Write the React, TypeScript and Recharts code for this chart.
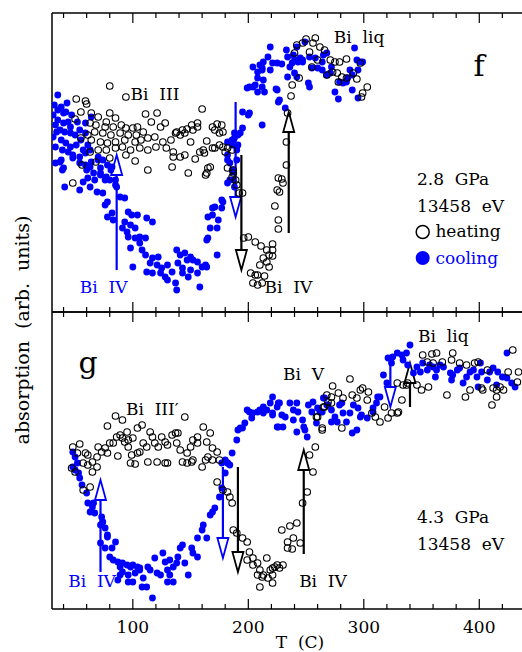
import React from "react";
import { ScatterChart, Scatter, XAxis, YAxis, ReferenceLine, ReferenceDot } from "recharts";

// T (C) vs absorption (arb. units); top panel f at 2.8 GPa, bottom panel g at 4.3 GPa
const tempTicks = [40, 60, 80, 100, 120, 140, 160, 180, 200, 220, 240, 260, 280, 300, 320, 340, 360, 380, 400, 420];
const tempDomain: [number, number] = [30, 437];

// panel f, heating (open circles)
const heatF: [number, number][] = [
  [80, 22.6], [94, 21.5], [51, 21.3], [59, 21.1], [60, 20.8], [55, 20.0], [64, 19.9], [50, 19.3], [70, 19.5], [80, 19.9],
  [85, 19.4], [77, 19.0], [63, 18.9], [68, 18.7], [76, 18.5], [83, 18.5], [90, 18.7], [94, 18.4], [100, 18.4], [104, 18.5],
  [111, 19.8], [121, 19.9], [116, 19.0], [128, 18.9], [124, 18.5], [109, 18.0], [103, 17.7], [96, 17.7], [89, 17.9], [81, 17.7],
  [74, 17.9], [67, 18.0], [61, 17.7], [55, 17.4], [64, 17.2], [72, 17.0], [78, 16.9], [85, 17.0], [93, 17.2], [102, 17.0],
  [107, 17.2], [113, 17.4], [119, 17.5], [126, 17.0], [133, 17.2], [120, 16.5], [129, 16.4], [135, 16.0], [113, 16.2], [106, 16.4],
  [98, 16.2], [91, 16.5], [85, 16.4], [77, 16.2], [70, 16.2], [63, 16.0], [94, 15.7], [102, 15.1], [80, 15.4], [113, 14.2],
  [68, 15.0], [137, 17.9], [48, 12.9], [56, 14.7], [134, 14.5], [148, 13.9], [164, 13.9], [165, 14.4], [182, 14.4], [187, 13.9],
  [160, 20.3], [178, 18.0], [173, 18.8], [177, 18.7], [171, 18.2], [175, 17.9], [156, 18.9], [156, 18.5], [151, 18.7], [152, 18.2],
  [147, 18.3], [145, 17.9], [141, 17.7], [138, 18.0], [150, 17.0], [164, 17.1], [161, 16.2], [158, 16.0], [162, 15.9], [169, 16.4],
  [171, 16.4], [175, 16.7], [178, 16.5], [182, 16.4], [186, 16.2], [180, 16.0], [145, 15.7], [141, 15.5], [135, 15.5], [154, 15.3],
  [167, 14.5], [163, 13.7], [187, 14.2], [186, 13.5], [189, 13.2], [190, 12.7], [192, 11.9], [195, 11.9], [143, 18.2], [169, 18.5],
  [196, 7.4], [200, 7.5], [206, 7.0], [211, 6.6], [221, 6.8], [221, 6.2], [218, 5.7], [213, 5.4], [216, 5.0], [218, 4.5],
  [210, 4.7], [202, 3.9], [206, 3.7], [208, 3.7], [214, 3.6], [204, 2.9], [208, 2.7], [212, 2.9], [216, 6.2], [221, 5.6],
  [226, 13.4], [225, 12.2], [223, 10.6], [226, 9.2], [226, 8.3], [227, 12.0], [229, 13.3], [230, 12.9], [233, 14.7], [233, 17.0],
  [234, 19.9], [237, 21.6], [238, 22.7], [244, 23.4], [240, 25.9], [242, 26.7], [247, 26.9], [250, 27.3], [258, 27.4], [256, 26.9],
  [253, 26.0], [262, 26.5], [266, 26.2], [260, 25.2], [255, 24.5], [271, 25.2], [275, 25.0], [279, 25.0], [285, 25.3], [273, 24.0],
  [277, 23.9], [281, 23.5], [285, 23.4], [291, 23.9], [294, 23.3], [278, 23.0], [297, 24.9], [303, 22.5], [299, 21.9], [298, 21.5],
  [268, 23.7],
];

// panel f, cooling (filled dots)
const coolF: [number, number][] = [
  [35, 21.7], [38, 20.5], [35, 20.2], [40, 19.9], [42, 20.0], [35, 19.2], [40, 18.9], [44, 19.0], [46, 18.5], [37, 18.2],
  [41, 18.0], [46, 17.9], [50, 17.7], [54, 18.2], [59, 17.9], [55, 17.2], [38, 17.2], [42, 16.9], [46, 16.5], [51, 16.7],
  [61, 16.7], [44, 16.0], [48, 15.7], [54, 15.5], [59, 15.9], [64, 15.0], [59, 14.7], [38, 15.2], [40, 14.4], [70, 15.2],
  [72, 14.4], [72, 13.9], [77, 13.5], [81, 14.2], [80, 13.2], [85, 12.7], [67, 13.2], [61, 13.4], [64, 19.5], [59, 18.9],
  [33, 14.9], [33, 16.5], [31, 17.5], [41, 12.5], [32, 20.7], [33, 18.7], [31, 19.7], [34, 18.0], [39, 16.2], [43, 20.9],
  [47, 19.7], [52, 19.0], [57, 16.2], [63, 16.2], [37, 15.0], [39, 14.2], [48, 15.4], [54, 14.9], [60, 14.2], [63, 14.5],
  [66, 13.9], [72, 13.7], [70, 15.5], [74, 15.2], [78, 14.7], [82, 14.5], [76, 13.2], [54, 12.2], [57, 13.0], [63, 12.5],
  [69, 12.0], [74, 11.9], [85, 13.2], [86, 12.5], [89, 11.5], [93, 11.4], [78, 11.0], [76, 10.7], [82, 9.9], [78, 9.5],
  [83, 9.2], [96, 10.0], [99, 9.7], [104, 9.7], [93, 9.0], [98, 8.7], [91, 8.4], [95, 8.0], [102, 8.4], [112, 9.4],
  [117, 9.0], [96, 7.5], [102, 7.4], [106, 7.5], [111, 7.4], [98, 6.4], [106, 6.9], [108, 6.2], [111, 5.7], [117, 5.4],
  [122, 5.5], [115, 4.9], [121, 4.7], [125, 4.4], [130, 4.7], [112, 4.0], [117, 3.9], [124, 3.9], [128, 3.5], [130, 3.2],
  [137, 2.9], [138, 2.2], [100, 4.5], [134, 4.0], [138, 6.2], [141, 5.7], [145, 5.9], [150, 5.5], [147, 5.2], [139, 4.9],
  [143, 4.4], [152, 5.2], [156, 5.0], [160, 4.5], [163, 4.7], [150, 4.2], [143, 3.9], [148, 3.5], [158, 2.5], [156, 3.9],
  [164, 4.5], [164, 7.2], [165, 7.4], [167, 8.4], [173, 8.4], [165, 9.5], [169, 9.7], [174, 9.2], [169, 10.4], [171, 10.5],
  [177, 11.2], [178, 11.0], [177, 10.4], [173, 5.7], [186, 14.2], [184, 13.2], [187, 13.2], [188, 12.5], [182, 15.2], [186, 16.7],
  [190, 16.5], [182, 17.0], [186, 17.2], [188, 17.4], [191, 17.7], [193, 17.9], [188, 17.9], [190, 16.2], [182, 15.7], [184, 14.9],
  [190, 15.2], [187, 14.0], [182, 12.9], [195, 20.0], [201, 19.9], [200, 19.7], [195, 18.4], [212, 18.7], [199, 22.4], [201, 22.5],
  [206, 22.7], [208, 22.0], [212, 22.5], [214, 22.0], [225, 22.2], [226, 21.0], [232, 20.4], [191, 16.7], [219, 26.5], [217, 25.5],
  [221, 24.9], [225, 24.9], [210, 24.7], [204, 24.5], [208, 24.0], [212, 24.4], [208, 23.4], [204, 22.5], [213, 25.0], [212, 24.2],
  [229, 24.8], [219, 24.2], [233, 26.2], [234, 25.5], [238, 24.9], [236, 24.5], [239, 25.7], [242, 26.5], [249, 27.0], [240, 25.2],
  [243, 25.0], [245, 25.4], [247, 25.0], [247, 25.2], [253, 25.5], [258, 25.4], [265, 25.7], [268, 25.9], [264, 25.0], [255, 24.4],
  [260, 24.4], [264, 24.2], [268, 23.7], [271, 23.9], [272, 24.5], [279, 23.0], [282, 22.9], [285, 23.0], [286, 23.4], [288, 24.2],
  [290, 23.7], [292, 26.4], [294, 25.2], [297, 25.0], [299, 25.0], [295, 24.2], [290, 22.2], [295, 21.4], [278, 21.3], [275, 22.0],
  [253, 22.5], [252, 22.9], [234, 23.5], [240, 23.9], [242, 23.5], [224, 22.3], [227, 21.2], [213, 23.2],
];

// panel g, heating (open circles)
const heatG: [number, number][] = [
  [48, 16.2], [54, 16.5], [52, 15.6], [59, 15.6], [61, 15.4], [57, 14.6], [65, 14.7], [69, 15.2], [70, 16.2], [73, 15.7],
  [76, 16.1], [78, 15.6], [80, 16.6], [83, 16.6], [86, 17.2], [89, 17.4], [91, 17.1], [95, 17.7], [93, 16.7], [96, 16.9],
  [96, 16.2], [100, 17.1], [99, 15.4], [104, 15.6], [106, 15.7], [109, 16.6], [112, 16.2], [115, 17.7], [117, 17.2], [119, 16.6],
  [122, 16.2], [125, 17.2], [128, 16.7], [130, 16.4], [134, 17.4], [137, 17.6], [138, 16.6], [141, 15.9], [139, 17.6], [147, 15.6],
  [150, 16.2], [152, 16.9], [156, 16.6], [156, 17.2], [161, 18.2], [167, 17.6], [164, 16.7], [169, 16.1], [173, 15.7], [165, 15.2],
  [163, 14.9], [169, 14.9], [175, 14.9], [152, 14.9], [143, 14.7], [147, 14.6], [130, 14.6], [121, 14.7], [113, 14.7], [98, 14.6],
  [102, 14.5], [87, 15.3], [78, 18.3], [85, 19.3], [91, 18.9], [104, 18.1], [108, 18.4], [145, 19.2], [47, 14.1], [50, 13.7],
  [61, 14.4], [65, 13.7], [69, 14.2], [63, 12.2], [57, 11.9], [128, 14.6], [151, 14.7], [160, 14.2], [173, 12.7], [178, 11.9],
  [182, 11.7], [184, 11.2], [186, 10.6], [187, 7.9], [190, 7.6], [195, 7.1], [199, 6.7], [201, 5.7], [199, 4.9], [204, 5.1],
  [208, 4.6], [204, 4.4], [210, 3.9], [213, 3.4], [208, 3.4], [217, 3.1], [221, 2.6], [210, 2.2], [216, 5.1], [219, 3.9],
  [223, 4.2], [227, 4.1], [221, 4.1], [221, 3.4], [225, 4.4], [230, 4.4], [212, 3.2], [229, 7.9], [236, 8.3], [242, 8.6],
  [239, 7.1], [234, 6.7], [234, 6.1], [238, 6.0], [245, 6.6], [247, 10.6], [251, 11.7], [256, 13.7], [258, 16.2], [253, 15.4],
  [264, 18.1], [260, 19.2], [266, 20.2], [272, 21.2], [273, 22.3], [278, 21.6], [282, 21.1], [288, 23.0], [290, 21.4], [294, 21.1],
  [297, 21.9], [299, 22.1], [303, 20.9], [304, 21.7], [307, 19.6], [310, 19.2], [314, 18.7], [318, 20.2], [321, 19.1], [324, 19.6],
  [329, 19.6], [330, 19.7], [333, 20.9], [329, 22.6], [334, 22.4], [337, 22.4], [346, 22.4], [350, 21.9], [356, 22.2], [351, 25.4],
  [359, 25.5], [363, 25.6], [377, 25.6], [355, 24.7], [360, 24.6], [368, 24.7], [372, 21.4], [376, 24.9], [383, 24.6], [388, 21.2],
  [389, 24.4], [392, 21.9], [396, 24.6], [399, 24.7], [402, 22.1], [403, 21.9], [407, 23.9], [411, 20.4], [412, 22.1], [415, 21.9],
  [415, 21.2], [418, 22.2], [421, 21.9], [425, 23.7], [429, 25.9], [433, 22.7], [434, 23.7], [338, 22.6], [268, 21.4], [269, 20.7],
  [272, 20.6], [265, 20.2], [259, 19.2], [264, 17.9], [281, 18.1],
];

// panel g, cooling (filled dots)
const coolG: [number, number][] = [
  [48, 15.7], [50, 15.2], [52, 14.6], [48, 14.2], [50, 13.9], [53, 13.6], [54, 13.1], [56, 12.4], [60, 11.6], [61, 10.6],
  [65, 10.2], [63, 9.7], [67, 9.6], [66, 10.6], [73, 9.2], [74, 8.7], [72, 8.4], [76, 8.1], [78, 7.4], [78, 7.2],
  [72, 6.6], [76, 6.1], [82, 6.1], [85, 6.7], [80, 5.2], [83, 4.9], [87, 4.7], [91, 4.6], [89, 4.2], [95, 4.4],
  [98, 4.2], [100, 4.4], [104, 4.2], [106, 4.1], [91, 3.7], [96, 3.4], [89, 3.4], [87, 2.9], [96, 2.7], [100, 2.7],
  [106, 3.9], [102, 3.6], [109, 3.1], [108, 2.2], [112, 2.2], [113, 4.2], [115, 3.9], [117, 1.1], [121, 3.6], [119, 5.1],
  [124, 3.4], [126, 5.6], [128, 4.7], [130, 3.9], [132, 3.4], [132, 4.9], [135, 4.2], [138, 4.6], [141, 6.1], [143, 6.4],
  [139, 5.2], [145, 4.6], [148, 3.4], [135, 2.7], [130, 2.7], [151, 6.1], [152, 5.6], [156, 5.2], [156, 7.1], [160, 7.9],
  [161, 8.4], [164, 7.1], [167, 9.4], [169, 9.7], [171, 10.1], [175, 11.2], [177, 12.1], [182, 14.6], [184, 14.4], [180, 13.6],
  [177, 14.6], [180, 14.9], [182, 14.6], [186, 15.6], [190, 16.9], [193, 18.1], [197, 18.6], [199, 19.9], [204, 19.6], [210, 19.9],
  [213, 20.2], [216, 19.9], [219, 20.6], [221, 21.2], [225, 20.2], [226, 18.2], [191, 17.9], [195, 18.1], [201, 19.7], [203, 19.1],
  [208, 19.7], [213, 19.6], [221, 19.4], [227, 20.6], [229, 19.4], [232, 19.2], [236, 20.6], [239, 19.9], [242, 20.6], [239, 18.9],
  [243, 19.7], [247, 18.9], [248, 18.2], [251, 17.2], [255, 19.7], [256, 20.7], [259, 18.6], [262, 19.7], [266, 21.1], [268, 20.4],
  [272, 19.9], [275, 19.2], [277, 18.7], [279, 20.4], [282, 19.6], [285, 18.7], [288, 19.6], [291, 20.4], [295, 20.1], [298, 19.4],
  [303, 19.1], [294, 17.9], [225, 18.2], [230, 18.2], [242, 17.7], [249, 17.9], [290, 17.6], [308, 19.7], [312, 21.2], [226, 20.6],
  [221, 19.6], [252, 20.4], [260, 20.1], [264, 19.7], [265, 21.1], [269, 20.4], [272, 18.7], [281, 20.6], [297, 19.2], [308, 20.1],
  [311, 20.6], [314, 21.2], [317, 23.4], [320, 22.6], [321, 25.1], [324, 24.6], [325, 25.2], [329, 25.6], [333, 25.4], [334, 24.9],
  [337, 25.6], [338, 24.4], [340, 26.4], [343, 23.6], [346, 24.2], [349, 23.7], [351, 24.6], [355, 23.9], [357, 24.4], [360, 24.2],
  [363, 23.9], [366, 24.4], [369, 24.2], [362, 23.2], [375, 23.6], [377, 23.4], [376, 22.9], [381, 23.9], [383, 24.1], [386, 22.6],
  [389, 23.2], [392, 23.7], [395, 23.9], [401, 24.6], [402, 23.7], [399, 22.2], [407, 22.9], [409, 23.7], [412, 24.1], [416, 23.7],
  [420, 23.2], [424, 23.1], [428, 22.6], [431, 22.2], [424, 25.6], [415, 22.4], [398, 23.2],
];

// transition arrows: temperature, start and tip in absorption units
const arrowsF = [
  { t: 86, from: 4.2, to: 15.7, color: "#0000ff" },
  { t: 189, from: 21.0, to: 9.5, color: "#0000ff" },
  { t: 194, from: 15.7, to: 4.2, color: "#000" },
  { t: 235, from: 7.9, to: 20.0, color: "#000" },
];
const arrowsG = [
  { t: 72, from: 3.7, to: 12.9, color: "#0000ff" },
  { t: 178, from: 14.2, to: 5.1, color: "#0000ff" },
  { t: 191, from: 14.2, to: 3.7, color: "#000" },
  { t: 248, from: 5.5, to: 15.9, color: "#000" },
  { t: 323, from: 25.2, to: 20.2, color: "#0000ff" },
  { t: 340, from: 20.2, to: 24.6, color: "#000" },
];

const notesF = [
  { t: 98, a: 21.2, text: "Bi\u00a0\u00a0III", color: "#000", size: 17 },
  { t: 274, a: 26.9, text: "Bi\u00a0\u00a0liq", color: "#000", size: 17 },
  { t: 395, a: 23.6, text: "f", color: "#000", size: 30 },
  { t: 54, a: 1.9, text: "Bi\u00a0\u00a0IV", color: "#0000ff", size: 17 },
  { t: 214, a: 1.9, text: "Bi\u00a0\u00a0IV", color: "#000", size: 17 },
  { t: 346, a: 12.7, text: "2.8\u00a0\u00a0GPa", color: "#000", size: 17 },
  { t: 346, a: 10.0, text: "13458\u00a0\u00a0eV", color: "#000", size: 17 },
  { t: 362, a: 7.5, text: "heating", color: "#000", size: 17 },
  { t: 362, a: 4.8, text: "cooling", color: "#0000ff", size: 17 },
];
const notesG = [
  { t: 53, a: 23.6, text: "g", color: "#000", size: 30 },
  { t: 94, a: 19.4, text: "Bi\u00a0\u00a0III\u2032", color: "#000", size: 17 },
  { t: 230, a: 22.9, text: "Bi\u00a0\u00a0V", color: "#000", size: 17 },
  { t: 347, a: 26.7, text: "Bi\u00a0\u00a0liq", color: "#000", size: 17 },
  { t: 44, a: 2.2, text: "Bi\u00a0\u00a0IV", color: "#0000ff", size: 17 },
  { t: 244, a: 2.2, text: "Bi\u00a0\u00a0IV", color: "#000", size: 17 },
  { t: 346, a: 8.6, text: "4.3\u00a0\u00a0GPa", color: "#000", size: 17 },
  { t: 346, a: 5.9, text: "13458\u00a0\u00a0eV", color: "#000", size: 17 },
];
const legendF = [
  { t: 351, a: 8.0, filled: false },
  { t: 351, a: 5.4, filled: true },
];

const FONT = "'DejaVu Serif', serif";
const BLUE = "#0000ff";

const toPts = (arr: [number, number][]) => arr.map(([t, a]) => ({ t, a }));

const ring = (p: any) => <circle cx={p.cx} cy={p.cy} r={3.3} fill="none" stroke="#000" strokeWidth={1.1} />;
const dot = (p: any) => <circle cx={p.cx} cy={p.cy} r={3.4} fill={BLUE} />;

function tickMark(dir: number, showLabel: boolean) {
  return (p: any) => {
    const v = p.payload.value;
    const major = v % 100 === 0;
    const len = major ? 10 : 5;
    return (
      <g>
        <line x1={p.x} x2={p.x} y1={p.y} y2={p.y + dir * len} stroke="#000" strokeWidth={1.2} />
        {showLabel && major && (
          <text x={p.x} y={p.y + 24} textAnchor="middle" fontFamily={FONT} fontSize={17} fill="#000">
            {v}
          </text>
        )}
      </g>
    );
  };
}

function arrowShape(color: string) {
  return (p: any) => {
    const { x1, y1, x2, y2 } = p;
    const baseY = y2 < y1 ? y2 + 20 : y2 - 20;
    return (
      <g>
        <line x1={x1} y1={y1} x2={x2} y2={baseY} stroke={color} strokeWidth={2.2} />
        <path d={`M${x2},${y2} L${x2 - 5.5},${baseY} L${x2 + 5.5},${baseY} Z`} fill="#fff" stroke={color} strokeWidth={1.8} />
      </g>
    );
  };
}

const frame = { stroke: "#000", strokeWidth: 1.5 };

function Panel({ height, top, heat, cool, arrows, notes, yMax, showLabels, legend }: any) {
  return (
    <ScatterChart width={522} height={height} margin={{ top, right: 0, bottom: 0, left: 51 }}>
      <XAxis
        xAxisId="top"
        orientation="top"
        type="number"
        dataKey="t"
        domain={tempDomain}
        allowDataOverflow
        ticks={tempTicks}
        interval={0}
        height={1}
        tickSize={0}
        tickMargin={0}
        tickLine={false}
        axisLine={frame}
        tick={tickMark(1, false)}
      />
      <XAxis
        type="number"
        dataKey="t"
        domain={tempDomain}
        allowDataOverflow
        ticks={tempTicks}
        interval={0}
        height={showLabels ? 43 : 1}
        tickSize={0}
        tickMargin={0}
        tickLine={false}
        axisLine={frame}
        tick={tickMark(-1, showLabels)}
      />
      <YAxis type="number" dataKey="a" domain={[0, yMax]} allowDataOverflow width={1} tick={false} tickLine={false} axisLine={frame} />
      <Scatter data={toPts(cool)} shape={dot} isAnimationActive={false} />
      <Scatter data={toPts(heat)} shape={ring} isAnimationActive={false} />
      {arrows.map((ar: any, i: number) => (
        <ReferenceLine
          key={"ar" + i}
          segment={[{ x: ar.t, y: ar.from }, { x: ar.t, y: ar.to }]}
          shape={arrowShape(ar.color)}
        />
      ))}
      {(legend || []).map((l: any, i: number) => (
        <ReferenceDot
          key={"lg" + i}
          x={l.t}
          y={l.a}
          r={0}
          shape={(p: any) =>
            l.filled ? (
              <circle cx={p.cx} cy={p.cy} r={7} fill={BLUE} />
            ) : (
              <circle cx={p.cx} cy={p.cy} r={6.5} fill="none" stroke="#000" strokeWidth={1.5} />
            )
          }
        />
      ))}
      {notes.map((n: any, i: number) => (
        <ReferenceDot
          key={"nt" + i}
          x={n.t}
          y={n.a}
          r={0}
          shape={(p: any) => (
            <text x={p.cx} y={p.cy} fontFamily={FONT} fontSize={n.size} fill={n.color}>
              {n.text}
            </text>
          )}
        />
      ))}
    </ScatterChart>
  );
}

export default function App() {
  return (
    <div style={{ position: "fixed", left: 0, top: 0, width: 522, height: 652, overflow: "hidden", background: "#fff" }}>
      <div style={{ position: "absolute", left: 0, top: 0 }}>
        <Panel height={313} top={12} heat={heatF} cool={coolF} arrows={arrowsF} notes={notesF} legend={legendF} yMax={29.9} showLabels={false} />
      </div>
      <div style={{ position: "absolute", left: 0, top: 311 }}>
        <Panel height={341} top={0} heat={heatG} cool={coolG} arrows={arrowsG} notes={notesG} yMax={29.7} showLabels={true} />
      </div>
      <svg width={522} height={652} style={{ position: "absolute", left: 0, top: 0, pointerEvents: "none" }}>
        <text x={29} y={330} transform="rotate(-90, 29, 330)" textAnchor="middle" fontFamily={FONT} fontSize={19} fill="#000">
          {"absorption\u00a0\u00a0(arb.\u00a0\u00a0units)"}
        </text>
        <text x={300} y={648} textAnchor="middle" fontFamily={FONT} fontSize={17} fill="#000">
          {"T\u00a0\u00a0(C)"}
        </text>
      </svg>
    </div>
  );
}
